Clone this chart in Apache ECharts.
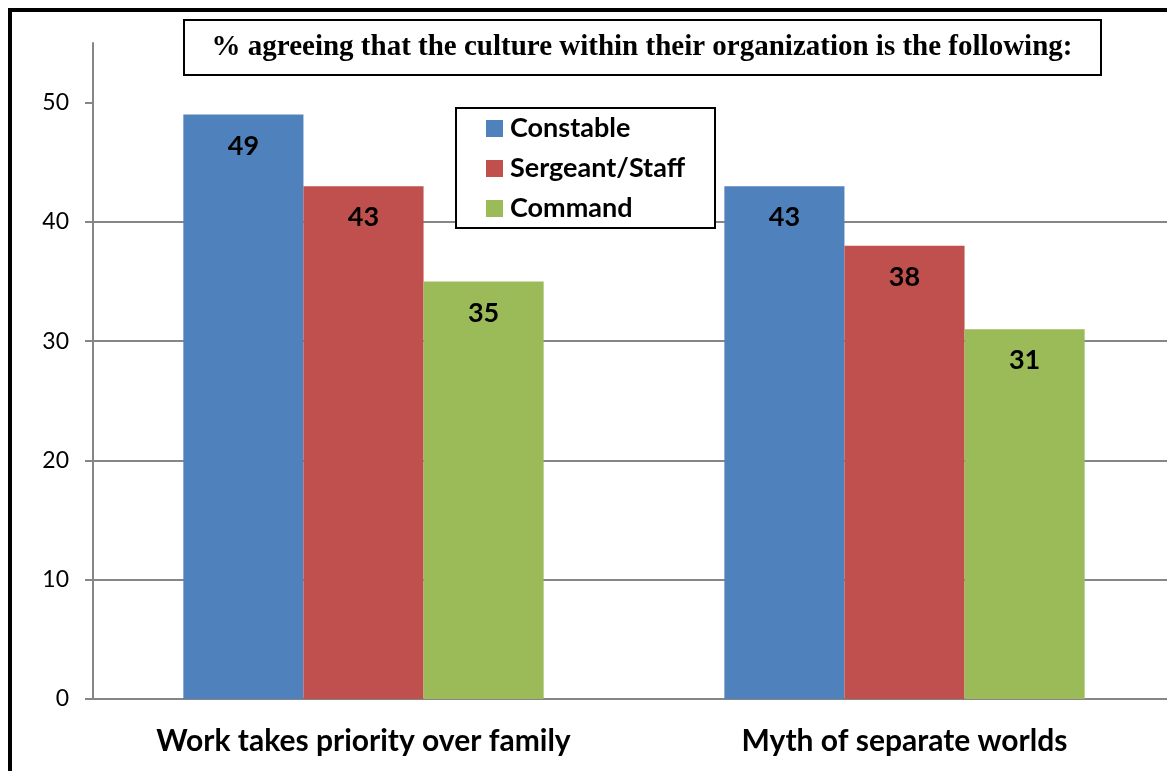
<!DOCTYPE html>
<html>
<head>
<meta charset="utf-8">
<script src="https://cdn.jsdelivr.net/npm/echarts@6/dist/echarts.min.js"></script>
<style>
html,body{margin:0;padding:0;background:#fff;}
#chart{width:1167px;height:771px;}
</style>
</head>
<body>
<div id="chart"></div>
<script>
var titleText = '% agreeing that the culture within their organization is the following:';
var categories = ['Work takes priority over family', 'Myth of separate worlds'];
var seriesNames = ['Constable', 'Sergeant/Staff', 'Command'];
var constable = [49, 43];
var sergeantStaff = [43, 38];
var command = [35, 31];
var yTicks = [0, 10, 20, 30, 40, 50];
var colors = ['#4F81BD', '#C0504D', '#9BBB59'];

var chart = echarts.init(document.getElementById('chart'), null, {renderer: 'canvas'});
var sans = 'Lato';
var labelCfg = {
  show: true, position: 'insideTop', distance: 18,
  fontFamily: sans, fontWeight: 'bold', fontSize: 27, color: '#000'
};
function mk(name, data, color) {
  return {
    name: name, type: 'bar', data: data, barGap: 0, barCategoryGap: '33.4%',
    itemStyle: {color: color}, label: labelCfg, silent: true
  };
}
chart.setOption({
  animation: false,
  backgroundColor: '#fff',
  title: {
    text: titleText, left: 642, top: 33, textAlign: 'center', padding: 0, z: 20,
    textStyle: {fontFamily: 'Liberation Serif', fontWeight: 'bold', fontSize: 29, color: '#000', lineHeight: 29}
  },
  legend: {
    data: seriesNames, orient: 'vertical', left: 486, top: 115, padding: 0,
    itemWidth: 17, itemHeight: 17, itemGap: 13, icon: 'rect',
    textStyle: {fontFamily: sans, fontWeight: 'bold', fontSize: 27, color: '#000', lineHeight: 27, padding: [0, 0, 0, 2]}
  },
  grid: {left: 93, top: 43, width: 1082, bottom: 72, containLabel: false, outerBoundsMode: 'none'},
  xAxis: {
    type: 'category', data: categories,
    axisLine: {lineStyle: {color: '#868686', width: 2}},
    axisTick: {length: 8, lineStyle: {color: '#868686', width: 2}},
    axisLabel: {fontFamily: sans, fontWeight: 'bold', fontSize: 30, color: '#000', margin: 27}
  },
  yAxis: {
    type: 'value', min: 0, max: 55, interval: 10,
    axisLine: {show: true, lineStyle: {color: '#868686', width: 2}},
    axisTick: {show: true, length: 8, customValues: yTicks, lineStyle: {color: '#868686', width: 2}},
    axisLabel: {customValues: yTicks, fontFamily: sans, fontSize: 23, color: '#000', margin: 24},
    splitLine: {show: true, showMaxLine: false, showMinLine: false, lineStyle: {color: '#868686', width: 2}}
  },
  graphic: [
    {type: 'rect', shape: {x: 10, y: 10, width: 1400, height: 1000}, style: {fill: null, stroke: '#000', lineWidth: 4}, silent: true},
    {type: 'rect', shape: {x: 184, y: 20, width: 917, height: 55}, style: {fill: '#fff', stroke: '#000', lineWidth: 2}, silent: true, z: 0, zlevel: 0},
    {type: 'rect', shape: {x: 456, y: 108, width: 259, height: 120}, style: {fill: '#fff', stroke: '#000', lineWidth: 2}, silent: true, z: 1}
  ],
  series: [
    mk(seriesNames[0], constable, colors[0]),
    mk(seriesNames[1], sergeantStaff, colors[1]),
    mk(seriesNames[2], command, colors[2])
  ]
});
</script>
</body>
</html>
